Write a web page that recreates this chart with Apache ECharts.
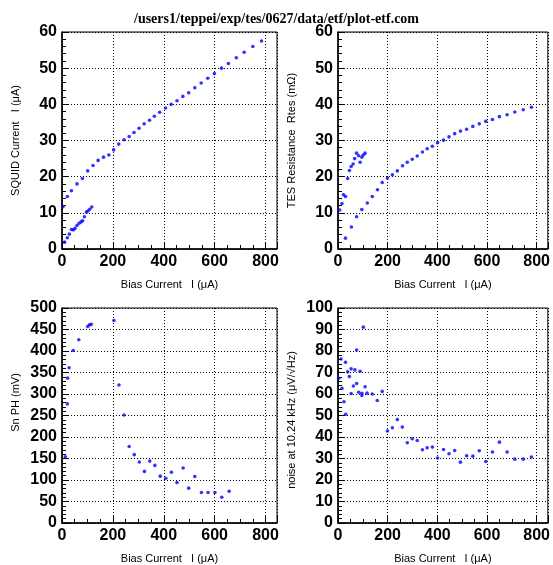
<!DOCTYPE html>
<html>
<head>
<meta charset="utf-8">
<script src="https://cdn.jsdelivr.net/npm/echarts@6/dist/echarts.min.js"></script>
<style>
  html, body { margin: 0; padding: 0; background: #fff; }
  #chart { width: 553px; height: 565px; }
</style>
</head>
<body>
<div id="chart"></div>
<script>
// SQUID current vs bias current (superconducting branch and normal branch)
const squidBranchX = [10, 21, 29, 37, 45, 51, 59, 67, 75, 81, 88, 96, 102, 109, 117];
const squidBranchY = [1.9, 3.1, 4.1, 5.4, 5.3, 5.7, 6.5, 7.1, 7.5, 7.8, 8.9, 10.2, 10.5, 11.0, 11.6];
const squidNormalX = [4, 21, 37, 59, 80, 101, 122, 142, 163, 184, 203, 223, 244, 264, 283, 303, 323, 344, 363, 384, 407, 429, 452, 475, 498, 522, 547, 573, 599, 627, 654, 685, 716, 750, 784];
const squidNormalY = [11.7, 14.5, 16.1, 18.0, 19.5, 21.6, 23.1, 24.5, 25.4, 26.0, 27.4, 29.0, 30.2, 31.1, 32.2, 33.4, 34.6, 35.6, 36.7, 37.8, 39.0, 40.0, 41.0, 42.2, 43.2, 44.6, 45.9, 47.2, 48.5, 50.0, 51.3, 52.9, 54.4, 56.0, 57.5];

// TES resistance vs bias current
const tesClusterX = [7, 16, 22, 30, 39, 46, 53, 61, 67, 75, 83, 89, 96, 102, 109];
const tesClusterY = [10.8, 12.6, 15.0, 14.5, 19.5, 21.7, 22.8, 23.5, 25.0, 26.5, 25.8, 24.0, 25.4, 26.0, 26.5];
const tesBranchX = [30, 54, 75, 96, 118, 138, 159, 178, 199, 219, 239, 260, 279, 299, 319, 340, 359, 380, 401, 425, 447, 470, 493, 518, 543, 569, 595, 622, 650, 681, 712, 746, 779];
const tesBranchY = [3.0, 6.1, 8.9, 10.9, 12.7, 14.5, 16.4, 18.4, 19.6, 20.5, 21.6, 23.0, 24.0, 24.8, 25.7, 26.8, 27.7, 28.4, 29.4, 30.1, 31.0, 31.9, 32.6, 33.1, 33.9, 34.6, 35.3, 35.8, 36.6, 37.1, 37.9, 38.5, 39.2];

// Sn pulse height vs bias current
const phX = [13, 21, 22, 28, 44, 66, 101, 108, 115, 204, 224, 244, 264, 284, 304, 324, 345, 365, 386, 408, 430, 452, 476, 498, 522, 548, 574, 601, 628, 657];
const phY = [154, 277, 337, 361, 401, 426, 457, 461, 462, 471, 321, 251, 178, 159, 142, 120, 144, 134, 109, 104, 118, 94, 128, 81, 108, 71, 71, 71, 60, 74];

// noise at 10.24 kHz vs bias current
const noiseX = [3, 12, 16, 24, 30, 31, 39, 46, 53, 53, 62, 68, 75, 75, 83, 89, 96, 96, 102, 109, 117, 138, 158, 178, 199, 219, 239, 259, 279, 299, 319, 340, 359, 380, 401, 425, 447, 470, 493, 518, 543, 569, 595, 622, 650, 681, 712, 746, 779];
const noiseY = [67.3, 76.3, 62.6, 56.4, 74.8, 50.6, 70.3, 68.1, 71.7, 60.2, 63.7, 71.2, 80.5, 64.9, 60.8, 70.6, 60.3, 59.3, 91.1, 63.4, 60.4, 60.0, 57.0, 61.2, 42.8, 44.3, 48.1, 44.6, 37.3, 39.2, 38.4, 34.1, 35.0, 35.3, 30.2, 34.2, 32.2, 33.7, 28.3, 31.3, 31.1, 33.6, 28.6, 33.0, 37.6, 33.0, 29.7, 29.7, 30.7];

// axis settings
const xName = 'Bias Current   I (\u03bcA)';
const xMax = 845;
const xInterval = 200;
const yNames = ['SQUID Current   I (\u03bcA)', 'TES Resistance  Rtes (m\u03a9)', 'Sn PH (mV)', 'noise at 10.24 kHz (\u03bcV/\u221aHz)'];
const yMax = [60, 60, 500, 100];
const yInterval = [10, 10, 50, 10];
const yNamePad = [[0, 0, 0, 0], [0, 0, 0, 0], [0, 0, 0, 26], [0, 9, 0, 0]];

const pairs = (xs, ys) => xs.map((x, i) => [x, ys[i]]);

const sans = '"Liberation Sans", Arial, Helvetica, sans-serif';
const gridBoxes = [
  { left: 62, top: 32, width: 215, height: 217 },
  { left: 338, top: 32, width: 214, height: 217 },
  { left: 62, top: 308, width: 215, height: 215 },
  { left: 338, top: 308, width: 214, height: 215 }
];

const dotted = { color: '#000', width: 1, type: [1, 2] };

const grids = gridBoxes.map(b => Object.assign({ show: true, borderColor: '#000', borderWidth: 1, backgroundColor: 'transparent' }, b));

const xAxes = gridBoxes.map((b, i) => ({
  type: 'value', gridIndex: i, min: 0, max: xMax, interval: xInterval,
  name: xName, nameLocation: 'middle', nameGap: 30,
  nameTextStyle: { fontFamily: sans, fontSize: 11, color: '#000' },
  axisLine: { show: true, onZero: false, lineStyle: { color: '#000', width: 1.5 } },
  axisTick: { show: true, inside: true, length: 7, lineStyle: { color: '#000' } },
  minorTick: { show: true, splitNumber: 4, length: 4, lineStyle: { color: '#000' } },
  splitLine: { show: true, lineStyle: dotted },
  axisLabel: { fontFamily: sans, fontWeight: 'bold', fontSize: 16, color: '#000', margin: 5, showMaxLabel: false }
}));

const yAxes = gridBoxes.map((b, i) => ({
  type: 'value', gridIndex: i, min: 0, max: yMax[i], interval: yInterval[i],
  name: yNames[i], nameLocation: 'middle', nameGap: 41, nameRotate: 90,
  nameTextStyle: { fontFamily: sans, fontSize: 11, color: '#000', padding: yNamePad[i] },
  axisLine: { show: true, onZero: false, lineStyle: { color: '#000', width: 1.5 } },
  axisTick: { show: true, inside: true, length: 7, lineStyle: { color: '#000' } },
  minorTick: { show: true, splitNumber: 5, length: 4, lineStyle: { color: '#000' } },
  splitLine: { show: true, lineStyle: dotted },
  axisLabel: { fontFamily: sans, fontWeight: 'bold', fontSize: 16, color: '#000', margin: 5 }
}));

const dot = (idx, data) => ({
  type: 'scatter', xAxisIndex: idx, yAxisIndex: idx, data: data,
  symbol: 'circle', symbolSize: 3.6, itemStyle: { color: '#0000ff' },
  silent: true, animation: false
});

const chart = echarts.init(document.getElementById('chart'), null, { renderer: 'canvas' });
chart.setOption({
  animation: false,
  backgroundColor: '#fff',
  title: {
    text: '/users1/teppei/exp/tes/0627/data/etf/plot-etf.com',
    left: 'center', top: 7,
    textStyle: { fontFamily: '"Liberation Serif", "Times New Roman", serif', fontWeight: 'bold', fontSize: 14, color: '#000' }
  },
  grid: grids,
  xAxis: xAxes,
  yAxis: yAxes,
  series: [
    dot(0, pairs(squidBranchX, squidBranchY)),
    dot(0, pairs(squidNormalX, squidNormalY)),
    dot(1, pairs(tesClusterX, tesClusterY)),
    dot(1, pairs(tesBranchX, tesBranchY)),
    dot(2, pairs(phX, phY)),
    dot(3, pairs(noiseX, noiseY))
  ]
});
</script>
</body>
</html>
